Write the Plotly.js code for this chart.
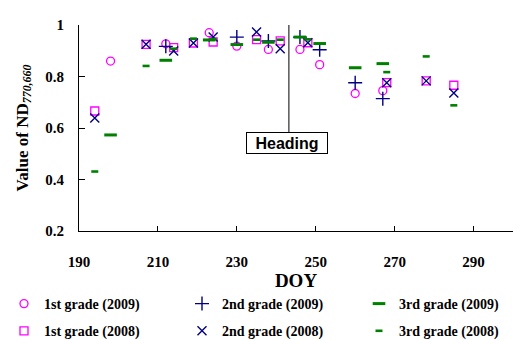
<!DOCTYPE html>
<html>
<head>
<meta charset="utf-8">
<script src="https://cdn.plot.ly/plotly-3.0.1.min.js"></script>
<style>html,body{margin:0;padding:0;background:#fff;}#chart{width:513px;height:340px;}</style>
</head>
<body>
<div id="chart"></div>
<script>
// DOY of observations
const doy2009 = [198, 212, 223, 230, 238, 246, 251, 260, 267];
const doy2008 = [194, 207, 214, 219, 224, 235, 241, 248, 268, 278, 285];

// ND770,660 values
const first2009  = [0.860, 0.927, 0.970, 0.918, 0.905, 0.905, 0.846, 0.734, 0.745];
const second2009 = [null, 0.917, null, 0.953, 0.938, 0.953, 0.904, 0.776, 0.714];
const third2009  = [0.573, 0.863, 0.942, 0.924, 0.933, 0.953, 0.928, 0.834, 0.850];

const first2008  = [0.666, 0.925, 0.912, 0.930, 0.934, 0.943, 0.938, 0.931, 0.776, 0.783, 0.766];
const second2008 = [0.639, 0.925, 0.899, 0.930, 0.953, 0.973, 0.908, 0.931, 0.776, 0.783, 0.736];
const third2008  = [0.431, 0.841, 0.908, 0.947, 0.945, 0.943, 0.943, 0.944, 0.817, 0.878, 0.688];

const seriesNames = ['1st grade (2009)', '2nd grade (2009)', '3rd grade (2009)',
                     '1st grade (2008)', '2nd grade (2008)', '3rd grade (2008)'];
const headingDOY = 243.2;
const xTicks = [190, 210, 230, 250, 270, 290];
const yTicks = [0.2, 0.4, 0.6, 0.8, 1];

const MAG = '#FF00FF', NAVY = '#000080', GRN = '#008000';

function tr(x, y, name, symbol, color, size, lw, legend, group) {
  return {
    type: 'scatter', mode: 'markers', x: x, y: y, name: name, legend: legend, legendgroup: group,
    marker: {symbol: symbol, size: size, color: color, line: {color: color, width: lw}},
    cliponaxis: false
  };
}

const data = [
  tr(doy2009, first2009,  seriesNames[0], 'circle-open', MAG, 8, 1.3, 'legend', 'a'),
  tr(doy2008, first2008,  seriesNames[3], 'square-open', MAG, 8, 1.3, 'legend', 'b'),
  tr(doy2009, second2009, seriesNames[1], 'cross-thin-open', NAVY, 10, 1.4, 'legend2', 'c'),
  tr(doy2008, second2008, seriesNames[4], 'x-thin-open', NAVY, 9, 1.4, 'legend2', 'd'),
  tr(doy2009, third2009,  seriesNames[2], 'line-ew-open', GRN, 9, 3, 'legend3', 'e'),
  tr(doy2008, third2008,  seriesNames[5], 'line-ew-open', GRN, 5, 2.6, 'legend3', 'f')
];

const serif = 'Liberation Serif';
const boldSerif = {family: serif, size: 15, color: '#000', weight: 'bold'};
const PH = 315; // paper height (340 - top margin)
const px = function (p) { return (p - 79) / 434; };
const legendBase = {
  orientation: 'v', xref: 'paper', yref: 'paper', xanchor: 'left', yanchor: 'top',
  y: (340 - 288) / PH, tracegroupgap: 6,
  font: {family: serif, size: 14, color: '#000', weight: 'bold'},
  bgcolor: 'rgba(0,0,0,0)', borderwidth: 0
};

const layout = {
  width: 513, height: 340,
  margin: {l: 79, r: 0, t: 25, b: 0, pad: 0, autoexpand: false},
  paper_bgcolor: '#fff', plot_bgcolor: '#fff',
  showlegend: true,
  legend: Object.assign({}, legendBase, {x: px(4)}),
  legend2: Object.assign({}, legendBase, {x: px(182)}),
  legend3: Object.assign({}, legendBase, {x: px(359)}),
  xaxis: {
    range: [190, 300], tickmode: 'array', tickvals: xTicks,
    ticks: 'inside', ticklen: 5, tickcolor: '#000', tickwidth: 1,
    showgrid: false, zeroline: false, showline: true, linecolor: '#000', linewidth: 1,
    tickfont: boldSerif, ticklabelstandoff: 17,
    title: {text: 'DOY', font: {family: serif, size: 19, color: '#000', weight: 'bold'}, standoff: 2},
    automargin: false
  },
  yaxis: {
    domain: [(340 - 231) / PH, 1], range: [0.2, 1.0], tickmode: 'array', tickvals: yTicks,
    ticks: 'inside', ticklen: 6, tickcolor: '#000', tickwidth: 1,
    showgrid: false, zeroline: false, showline: true, linecolor: '#000', linewidth: 1,
    tickfont: boldSerif, ticklabelstandoff: 11,
    title: {text: 'Value of ND<sub><i>770,660</i></sub>', font: {family: serif, size: 17, color: '#000', weight: 'bold'}, standoff: 12},
    automargin: false
  },
  shapes: [{
    type: 'line', xref: 'x', yref: 'y', x0: headingDOY, x1: headingDOY, y0: 0.58, y1: 1.066,
    line: {color: '#000', width: 1}
  }],
  annotations: [{
    xref: 'x', yref: 'y', x: headingDOY - 0.6, y: 0.54, text: 'Heading', showarrow: false,
    font: {family: 'Liberation Sans', size: 16, color: '#000', weight: 'bold'},
    bgcolor: '#fff', bordercolor: '#000', borderwidth: 1, borderpad: 0, width: 80, height: 20
  }]
};

Plotly.newPlot('chart', data, layout, {displayModeBar: false});
</script>
</body>
</html>
